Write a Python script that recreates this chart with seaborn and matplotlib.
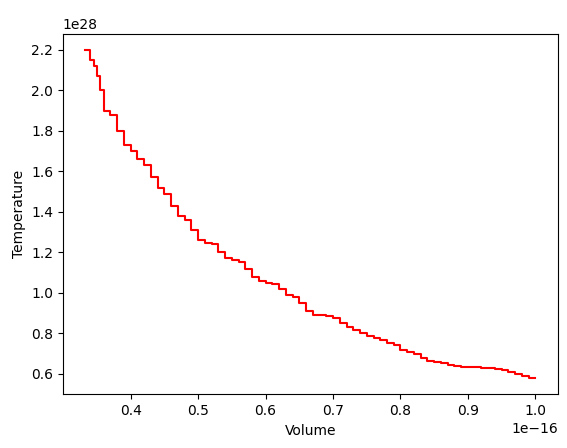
import numpy as np
import pandas as pd
import seaborn as sns
import matplotlib.pyplot as plt

# volume (x1e-16) and temperature (x1e28)
volume = [0.333, 0.34, 0.345, 0.35, 0.355, 0.36, 0.37, 0.38, 0.39, 0.40, 0.41, 0.42,
          0.43, 0.44, 0.45, 0.46, 0.47, 0.48, 0.49, 0.50, 0.51, 0.52, 0.53, 0.54,
          0.55, 0.56, 0.57, 0.58, 0.59, 0.60, 0.61, 0.62, 0.63, 0.64, 0.65, 0.66,
          0.67, 0.68, 0.69, 0.70, 0.71, 0.72, 0.73, 0.74, 0.75, 0.76, 0.77, 0.78,
          0.79, 0.80, 0.81, 0.82, 0.83, 0.84, 0.85, 0.86, 0.87, 0.88, 0.89, 0.90,
          0.91, 0.92, 0.93, 0.94, 0.95, 0.96, 0.97, 0.98, 0.99, 1.0]
temperature = [2.2, 2.15, 2.12, 2.07, 2.0, 1.9, 1.88, 1.80, 1.73, 1.70, 1.66, 1.63,
               1.57, 1.52, 1.49, 1.43, 1.38, 1.36, 1.31, 1.26, 1.245, 1.24, 1.2, 1.17,
               1.16, 1.15, 1.12, 1.08, 1.06, 1.05, 1.045, 1.02, 0.99, 0.98, 0.95, 0.91,
               0.89, 0.89, 0.885, 0.875, 0.85, 0.83, 0.815, 0.80, 0.785, 0.775, 0.765, 0.75,
               0.74, 0.72, 0.71, 0.70, 0.68, 0.665, 0.66, 0.655, 0.645, 0.64, 0.635, 0.635,
               0.632, 0.63, 0.63, 0.625, 0.62, 0.61, 0.60, 0.59, 0.58, 0.58]

df = pd.DataFrame({'Volume': np.array(volume) * 1e-16,
                   'Temperature': np.array(temperature) * 1e28})

fig, ax = plt.subplots(figsize=(5.67, 4.48), dpi=100)
sns.lineplot(data=df, x='Volume', y='Temperature', color='red',
             drawstyle='steps-post', ax=ax)
ax.set_xticks(np.arange(0.4, 1.01, 0.1) * 1e-16)
ax.set_yticks(np.arange(0.6, 2.21, 0.2) * 1e28)
fig.subplots_adjust(left=0.111, right=0.984, top=0.925, bottom=0.12)
plt.savefig('out.png')
